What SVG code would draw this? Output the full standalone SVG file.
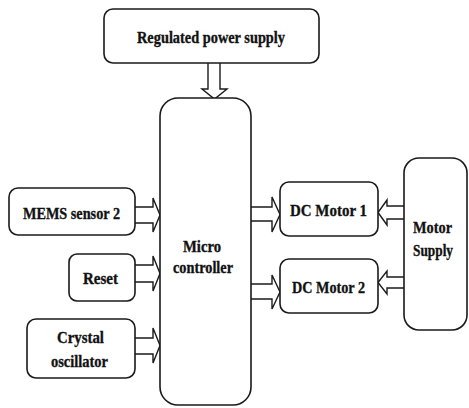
<svg xmlns="http://www.w3.org/2000/svg" width="469" height="408" viewBox="0 0 469 408">
<style>
.box{fill:#fff;stroke:#1a1a1a;stroke-width:1.6}
.arr{fill:#fff;stroke:#1a1a1a;stroke-width:1.4;stroke-linejoin:miter}
.t{font-family:'Liberation Serif',serif;font-weight:700;font-size:17.5px;fill:#111;stroke:#111;stroke-width:0.35}
</style>
<rect width="469" height="408" fill="#fff"/>
<g id="connectors">
<path class="arr" d="M208,63 V89 H202 L214.5,99 L227,89 H220 V63"/>
<path class="arr" d="M135,207 H153 V198 L160,215 L153,232 V223 H135"/>
<path class="arr" d="M135,265 H153 V256 L160,273.5 L153,291 V282 H135"/>
<path class="arr" d="M135,338 H153 V328 L160,345.5 L153,363 V354 H135"/>
<path class="arr" d="M251,207 H272 V197 L280,214.5 L272,232 V221 H251"/>
<path class="arr" d="M251,284 H272 V275 L280,292 L272,309 V299 H251"/>
<path class="arr" d="M404,206 H387 V200 L378,212.5 L387,225 V219 H404"/>
<path class="arr" d="M404,277 H387 V271 L378,282.5 L387,294 V288 H404"/>
</g>
<g id="power">
<rect class="box" x="104" y="9" width="215" height="54" rx="9"/>
<text class="t" x="137" y="43" textLength="148" lengthAdjust="spacingAndGlyphs">Regulated power supply</text>
</g>
<g id="micro">
<rect class="box" x="160" y="98" width="91" height="307" rx="18"/>
<text class="t" x="183" y="252" textLength="38" lengthAdjust="spacingAndGlyphs">Micro</text>
<text class="t" x="173" y="273" textLength="60" lengthAdjust="spacingAndGlyphs">controller</text>
</g>
<g id="mems">
<rect class="box" x="9" y="188" width="126" height="47" rx="9"/>
<text class="t" x="23" y="219" textLength="97" lengthAdjust="spacingAndGlyphs">MEMS sensor 2</text>
</g>
<g id="reset">
<rect class="box" x="69" y="254" width="66" height="47" rx="8"/>
<text class="t" x="83" y="284" textLength="35" lengthAdjust="spacingAndGlyphs">Reset</text>
</g>
<g id="crystal">
<rect class="box" x="27" y="319" width="108" height="59" rx="9"/>
<text class="t" x="57" y="343" textLength="47" lengthAdjust="spacingAndGlyphs">Crystal</text>
<text class="t" x="51" y="367" textLength="57" lengthAdjust="spacingAndGlyphs">oscillator</text>
</g>
<g id="motor1">
<rect class="box" x="280" y="182" width="98" height="54" rx="9"/>
<text class="t" x="290" y="216" textLength="77" lengthAdjust="spacingAndGlyphs">DC Motor  1</text>
</g>
<g id="motor2">
<rect class="box" x="280" y="259" width="98" height="54" rx="9"/>
<text class="t" x="292" y="293" textLength="73" lengthAdjust="spacingAndGlyphs">DC Motor 2</text>
</g>
<g id="motorsupply">
<rect class="box" x="404" y="158" width="63" height="172" rx="15"/>
<text class="t" x="413" y="233" textLength="39" lengthAdjust="spacingAndGlyphs">Motor</text>
<text class="t" x="413" y="256" textLength="40" lengthAdjust="spacingAndGlyphs">Supply</text>
</g>
</svg>
